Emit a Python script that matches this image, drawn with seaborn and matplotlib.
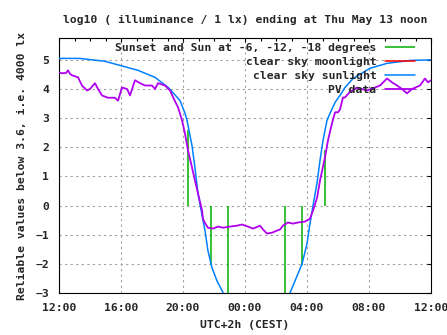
import matplotlib
matplotlib.use("Agg")
import matplotlib.pyplot as plt
import seaborn as sns
import pandas as pd
import numpy as np

# hours since 12:00 (start of the window)
sun_hours = [0.00, 1.35, 2.97, 5.10, 6.19, 7.03, 7.48, 7.81, 8.13, 8.26, 8.58, 8.77, 8.97,
             9.23, 9.42, 9.61, 9.87, 10.19, 10.52, 10.77,
             14.65, 14.90, 15.23, 15.68, 16.00, 16.19, 16.39, 16.65, 16.84, 17.03, 17.29,
             17.48, 17.81, 18.13, 18.45, 18.97, 20.06, 21.16, 22.65, 24.00]
sun_values = [5.05, 5.05, 4.95, 4.64, 4.40, 4.06, 3.80, 3.60, 3.16, 2.92, 2.06, 1.30, 0.41,
              -0.34, -0.86, -1.55, -2.13, -2.58, -2.92, -3.20,
              -3.20, -3.00, -2.58, -2.00, -1.31, -0.62, 0.00, 0.79, 1.55, 2.23, 2.92,
              3.16, 3.54, 3.78, 4.05, 4.36, 4.71, 4.88, 4.98, 5.00]

pv_hours = [0.00, 0.19, 0.45, 0.58, 0.71, 0.84, 1.23, 1.48, 1.81, 2.00, 2.32, 2.52, 2.77,
            3.16, 3.61, 3.81, 4.06, 4.39, 4.58, 4.90, 5.23, 5.55, 6.00, 6.19, 6.39, 6.84,
            7.16, 7.42, 7.68, 7.94, 8.13, 8.32, 8.58, 8.77, 8.97, 9.23, 9.29, 9.42, 9.61,
            9.94, 10.26, 10.58, 11.03, 11.48, 11.81, 12.19, 12.52, 12.97, 13.16, 13.42,
            13.74, 14.06, 14.26, 14.45, 14.77, 15.10, 15.42, 15.87, 16.19, 16.39, 16.65,
            16.84, 17.16, 17.35, 17.61, 17.81, 18.00, 18.13, 18.32, 18.45, 18.77, 19.23,
            19.87, 20.39, 20.71, 21.16, 21.48, 21.81, 22.13, 22.45, 22.77, 23.29, 23.61,
            23.81, 24.00]
pv_values = [4.57, 4.54, 4.55, 4.64, 4.52, 4.47, 4.40, 4.12, 3.95, 4.00, 4.20, 4.00, 3.78,
             3.70, 3.70, 3.60, 4.05, 4.00, 3.78, 4.30, 4.20, 4.12, 4.12, 4.00, 4.20, 4.12,
             3.95, 3.65, 3.37, 2.92, 2.47, 1.90, 1.31, 0.86, 0.41, -0.17, -0.45, -0.60, -0.76,
             -0.79, -0.72, -0.76, -0.72, -0.69, -0.65, -0.72, -0.79, -0.69, -0.82, -0.96,
             -0.93, -0.86, -0.82, -0.69, -0.58, -0.62, -0.58, -0.55, -0.45, -0.17, 0.27,
             0.86, 1.65, 2.23, 2.82, 3.20, 3.20, 3.30, 3.71, 3.71, 3.90, 4.05,
             3.95, 4.05, 4.12, 4.36, 4.23, 4.12, 4.00, 3.85, 4.00, 4.12, 4.36,
             4.23, 4.30]

# sunset/sunrise and sun at -6, -12 degrees
event_hours = [8.32, 9.81, 10.90, 14.58, 15.65, 17.13]
event_tops = [2.60, -2.05, -3.20, -3.20, -2.05, 1.90]

moon_hours = []
moon_values = []

tick_hours = [0, 4, 8, 12, 16, 20, 24]
tick_labels = ["12:00", "16:00", "20:00", "00:00", "04:00", "08:00", "12:00"]

GREEN = "#00b000"
RED = "#ff0000"
BLUE = "#0080ff"
PURPLE = "#b000f0"

sns.set_theme(style="white")
plt.rcParams["font.family"] = ["DejaVu Sans Mono"]
plt.rcParams["font.weight"] = "bold"
plt.rcParams["font.size"] = 8.2

fig = plt.figure(figsize=(4.47, 3.35), dpi=100)
ax = fig.add_axes([59 / 447, 42 / 335, 372 / 447, 255 / 335])

ax.vlines(event_hours, 0, event_tops, color=GREEN, lw=1.1, zorder=3,
          label="Sunset and Sun at -6, -12, -18 degrees")
ax.plot(moon_hours, moon_values, color=RED, lw=1.1, label="clear sky moonlight")
sun_df = pd.DataFrame({"h": sun_hours, "v": sun_values})
pv_df = pd.DataFrame({"h": pv_hours, "v": pv_values})
sns.lineplot(data=sun_df, x="h", y="v", color=BLUE, lw=1.1, ax=ax,
             label="clear sky sunlight", sort=False, zorder=4)
sns.lineplot(data=pv_df, x="h", y="v", color=PURPLE, lw=1.3, ax=ax,
             label="PV data", sort=False, zorder=5)

ax.set_xlim(0, 24)
ax.set_ylim(-3, 5.75)
ax.set_xticks(tick_hours)
ax.set_xticklabels(tick_labels)
ax.set_xticks(np.arange(0, 25, 1), minor=True)
ax.set_yticks(range(-3, 6))
ax.grid(True, which="major", color="#a0a0a0", ls=(0, (2, 3)), lw=0.8)
ax.tick_params(which="both", direction="in", top=True, right=True, length=3,
               width=0.8, color="black", labelsize=8.2, pad=7)
ax.tick_params(which="minor", length=2)
for s in ax.spines.values():
    s.set_color("black")
    s.set_linewidth(0.8)

ax.set_xlabel("UTC+2h (CEST)", fontsize=8.2, fontweight="bold", labelpad=5)
ax.set_ylabel("Reliable values below 3.6, i.e. 4000 lx", fontsize=8.2,
              fontweight="bold", labelpad=6)
ax.set_title("log10 ( illuminance / 1 lx) ending at Thu May 13 noon", fontsize=8.2,
             fontweight="bold", pad=11)

leg = ax.legend(loc="upper right", bbox_to_anchor=(0.957, 0.982), frameon=False,
                markerfirst=False, handlelength=2.6, handletextpad=0.8,
                labelspacing=0.36, borderaxespad=0, borderpad=0, fontsize=8.2)
for t in leg.get_texts():
    t.set_fontweight("bold")

fig.savefig("out.png", dpi=100)
